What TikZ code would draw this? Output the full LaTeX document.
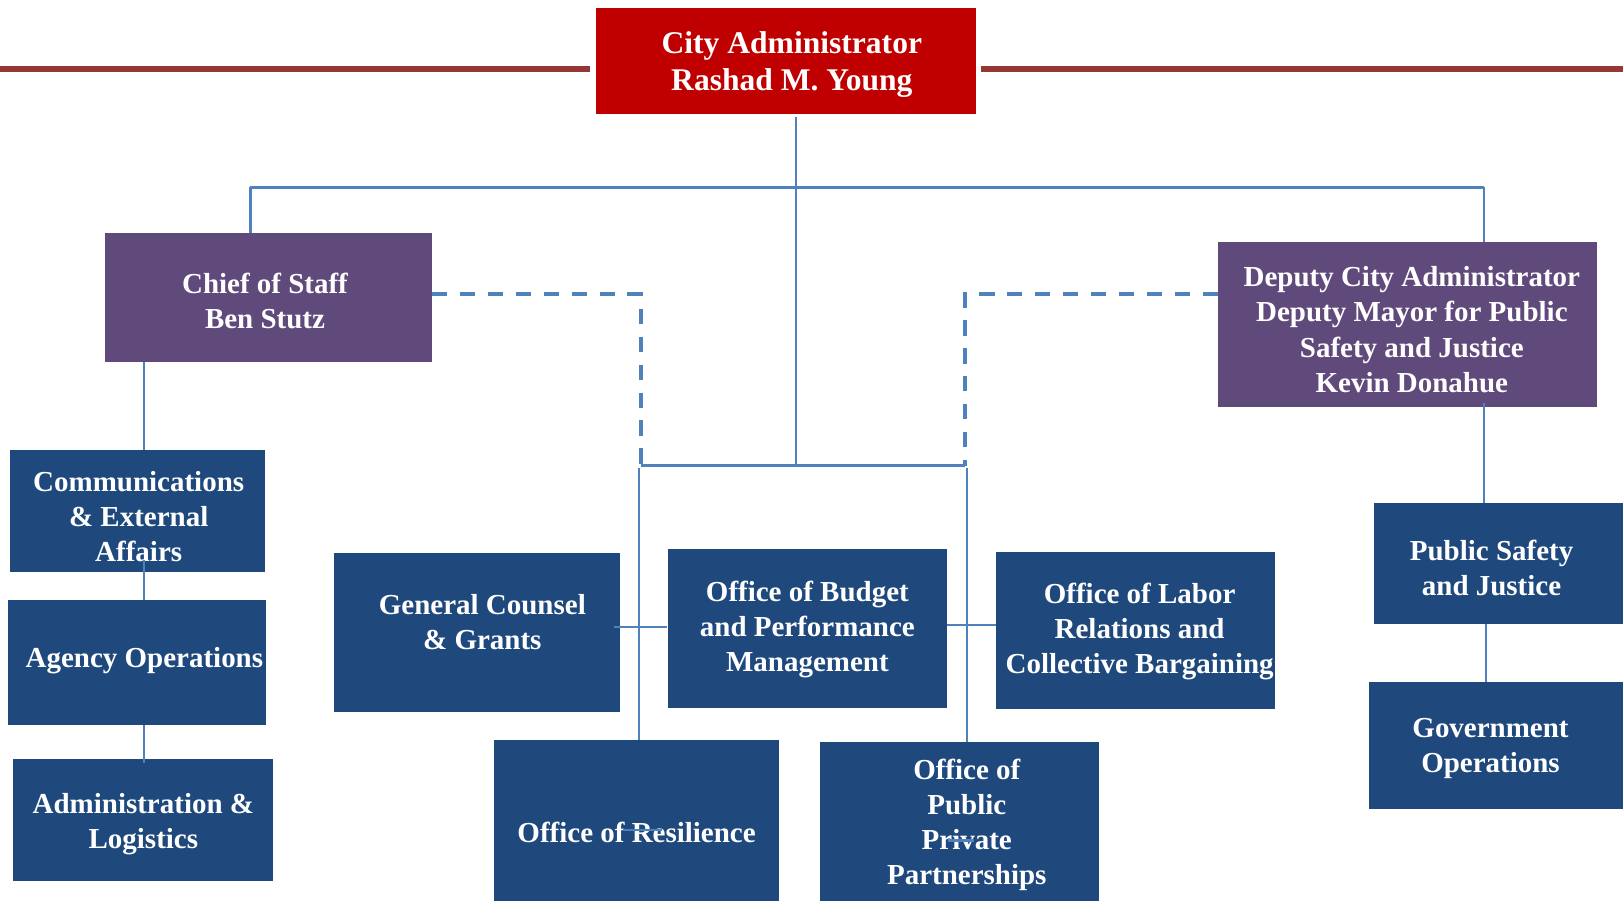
\documentclass[tikz,border=0pt]{standalone}
\usepackage{fontspec}
\setmainfont{Liberation Serif}
\usetikzlibrary{calc}
\definecolor{boxblue}{HTML}{1F497D}
\definecolor{boxpurple}{HTML}{604A7B}
\definecolor{boxred}{HTML}{C00000}
\definecolor{linkblue}{HTML}{4F81BD}
\definecolor{barred}{HTML}{953735}
\begin{document}
\begin{tikzpicture}[x=1pt,y=-1pt,
  bluebox/.style={fill=boxblue, draw=none, inner sep=0pt},
  purplebox/.style={fill=boxpurple, draw=none, inner sep=0pt},
  redbox/.style={fill=boxred, draw=none, inner sep=0pt},
  txt/.style={text=white, align=center, inner sep=0pt, yshift=-3pt, font=\bfseries\fontsize{28}{34}\selectfont},
  bigtxt/.style={text=white, align=center, inner sep=0pt, yshift=-3pt, font=\bfseries\fontsize{30.5}{36}\selectfont},
  conn/.style={draw=linkblue, line width=2pt},
  busline/.style={draw=linkblue, line width=3pt},
  dashconn/.style={draw=linkblue, line width=4pt, dash pattern=on 15pt off 12pt},
  bar/.style={draw=barred, line width=6pt}]
\useasboundingbox (0,0) rectangle (1568,870);
\clip (0,0) rectangle (1568,870);
\fill[white] (0,0) rectangle (1568,870);

% boxes
\node[redbox, minimum width=367pt, minimum height=102pt] (top) at (759.5,59) {};
\node[purplebox, minimum width=316pt, minimum height=125pt] (chief) at (259,287.5) {};
\node[purplebox, minimum width=366pt, minimum height=159pt] (deputy) at (1360,313.5) {};
\node[bluebox, minimum width=246pt, minimum height=118pt] (comm) at (133,494) {};
\node[bluebox, minimum width=249pt, minimum height=120pt] (agency) at (132.5,640) {};
\node[bluebox, minimum width=251pt, minimum height=118pt] (admin) at (138.5,792) {};
\node[bluebox, minimum width=276pt, minimum height=154pt] (gc) at (461,611) {};
\node[bluebox, minimum width=270pt, minimum height=154pt] (budget) at (780,607) {};
\node[bluebox, minimum width=270pt, minimum height=152pt] (labor) at (1097,609) {};
\node[bluebox, minimum width=276pt, minimum height=170pt] (resil) at (615,800) {};
\node[bluebox, minimum width=270pt, minimum height=170pt] (ppp) at (927,802) {};
\node[bluebox, minimum width=250pt, minimum height=117pt] (psj) at (1452,544.5) {};
\node[bluebox, minimum width=254pt, minimum height=123pt] (gov) at (1450,720.5) {};

% texts
\node[bigtxt] (topT) at (765,59) {City Administrator\\Rashad M. Young};
\node[txt] (chiefT) at (256,288) {Chief of Staff\\Ben Stutz};
\node[txt] (deputyT) at (1364,315.5) {Deputy City Administrator\\Deputy Mayor for Public\\Safety and Justice\\Kevin Donahue};
\node[txt] (commT) at (134,496) {Communications\\\& External\\Affairs};
\node[txt] (agencyT) at (139.5,635) {Agency Operations};
\node[txt] (adminT) at (138.5,793) {Administration \&\\Logistics};
\node[txt] (gcT) at (466,598) {General Counsel\\\& Grants};
\node[txt] (budgetT) at (780,605) {Office of Budget\\and Performance\\Management};
\node[txt] (laborT) at (1101,607) {Office of Labor\\Relations and\\Collective Bargaining};
\node[txt] (resilT) at (615,801) {Office of Resilience};
\node[txt] (pppT) at (934,794) {Office of\\Public\\Private\\Partnerships};
\node[txt] (psjT) at (1441,546) {Public Safety\\and Justice};
\node[txt] (govT) at (1440,720) {Government\\Operations};

% red bar
\coordinate (barL) at (0,67);
\coordinate (barR) at (1568,67);
\draw[bar] (barL) -- ($(top.west |- barL)+(-6,0)$);
\draw[bar] ($(top.east |- barR)+(5,0)$) -- (barR);

% helper coordinates
\coordinate (jc) at (769,450);
\coordinate (busL) at (242,181);
\coordinate (busR) at (1434,181);
\coordinate (xL) at (139,0);
\coordinate (dL) at (619,284);
\coordinate (dR) at (932,284);
\coordinate (vL) at (617,452);
\coordinate (vR) at (934,452);
\coordinate (xS) at (1436,0);

% top connectors
\draw[conn] ($(top.south -| jc)+(0,3)$) -- (jc);
\draw[busline] (busL) -- (busR);
\draw[conn] (busL) -- (busL |- chief.north);
\draw[conn] (busR) -- (busR |- deputy.north);

% left column
\draw[conn] (chief.south -| xL) -- (comm.north -| xL);
\draw[conn] ($(comm.south -| xL)+(0,-12)$) -- (agency.north -| xL);
\draw[conn] (agency.south -| xL) -- ($(admin.north -| xL)+(0,4)$);

% dashed links
\draw[dashconn] (chief.east |- dL) -- (dL) -- (dL |- jc);
\draw[dashconn] (deputy.west |- dR) -- (dR) -- (dR |- jc);

% lower bus
\draw[busline] (dL |- jc) -- (dR |- jc);
\draw[conn] (vL) -- (vL |- resil.north);
\draw[conn] (vR) -- (vR |- ppp.north);
\coordinate (hA) at (0,606);
\coordinate (hB) at (0,604);
\draw[conn] ($(gc.east |- hA)+(-6,0)$) -- (budget.west |- hA);
\draw[conn] (budget.east |- hB) -- (labor.west |- hB);
\draw[conn] ($(resil.center)+(-13,2)$) -- ++(38,0);
\draw[conn] ($(ppp.center)+(-11,10)$) -- ++(25,0);

% right column
\draw[conn] ($(deputy.south -| busR)+(0,-4)$) -- (psj.north -| busR);
\draw[conn] (psj.south -| xS) -- (gov.north -| xS);
\end{tikzpicture}
\end{document}
